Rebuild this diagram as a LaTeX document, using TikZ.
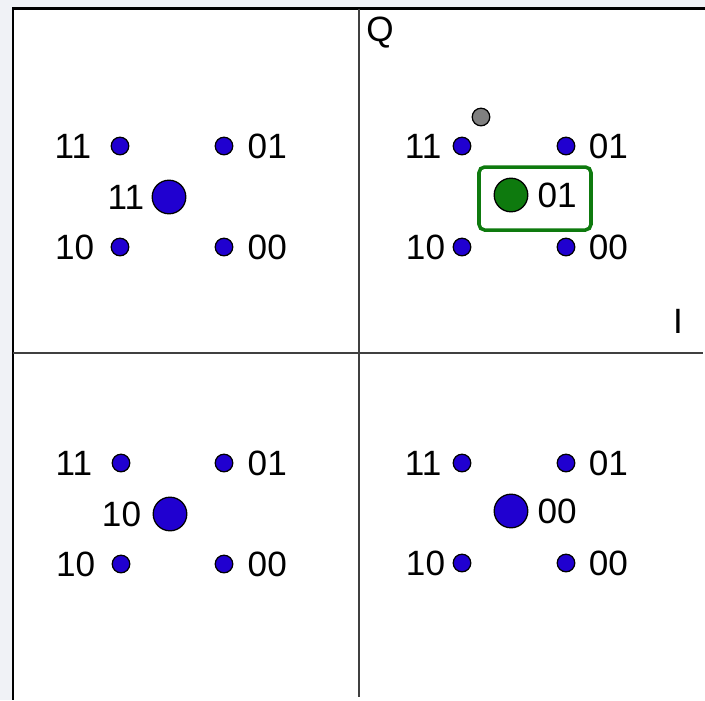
\documentclass[tikz,border=0pt]{standalone}
\usepackage{fontspec}
\setmainfont{Liberation Sans}
\usetikzlibrary{positioning}

\definecolor{dotblue}{RGB}{32,0,208}
\definecolor{selgreen}{RGB}{14,122,14}
\definecolor{pagebg}{RGB}{240,242,246}

\begin{document}
\begin{tikzpicture}[
    x=0.025cm, y=-0.025cm, % 1 unit = 1 px
    sdot/.style={circle, draw=black, line width=0.9pt, fill=dotblue, inner sep=0pt, minimum size=0.44cm},
    bdot/.style={sdot, minimum size=0.84cm},
    lbl/.style={inner sep=0pt, font=\fontsize{25}{29}\selectfont},
    frameline/.style={line width=2.1pt, black},
    axisline/.style={line width=1.4pt, black!75},
    selbox/.style={draw=selgreen, line width=2.5pt, rounded corners=4pt}
]
\useasboundingbox (0,0) rectangle (705,700);
\fill[pagebg] (0,0) rectangle (705,700);
\fill[white] (13,8) rectangle (705,700);

% ========== frame and axes ==========
\coordinate (ftl) at (13,8.5);
\coordinate (ftr) at (705,8.5);
\coordinate (fbl) at (13,700);
\draw[frameline] (ftr) -- (ftl) -- (fbl);
\coordinate (ql) at (13,353);
\coordinate (qr) at (703,353);
\coordinate (it) at (359,8.5);
\coordinate (ib) at (359,697);
\draw[axisline] (ql) -- (qr);
\draw[axisline] (it) -- (ib);

\node[lbl] (qax) at (380,33) {Q};
\node[lbl] (iax) at (678,321) {I};

% ========== top left: symbol 11 ==========
\node[sdot] (a11) at (120,146) {};
\node[sdot] (a01) at (224,146) {};
\node[sdot] (a10) at (120,247) {};
\node[sdot] (a00) at (224,247) {};
\node[bdot] (arx) at (169,197) {};
\node[lbl, left=0.48cm of a11] (a11l) {11};
\node[lbl, right=0.35cm of a01] (a01l) {01};
\node[lbl, left=0.4cm of a10] (a10l) {10};
\node[lbl, right=0.35cm of a00] (a00l) {00};
\node[lbl, left=0.18cm of arx] (arxl) {11};

% ========== top right: symbol 01 (selected) ==========
\node[sdot, fill=gray] (bprev) at (481,117) {};
\node[sdot] (b11) at (462,146) {};
\node[sdot] (b01) at (566,146) {};
\node[sdot] (b10) at (462,247) {};
\node[sdot] (b00) at (566,247) {};
\node[bdot, fill=selgreen] (brx) at (511,195) {};
\node[lbl, left=0.27cm of b11] (b11l) {11};
\node[lbl, right=0.33cm of b01] (b01l) {01};
\node[lbl, left=0.18cm of b10] (b10l) {10};
\node[lbl, right=0.33cm of b00] (b00l) {00};
\node[lbl, right=0.22cm of brx] (brxl) {01};
\coordinate (selA) at (479,167);
\coordinate (selB) at (591,230);
\draw[selbox] (selA) rectangle (selB);

% ========== bottom left: symbol 10 ==========
\node[sdot] (c11) at (121,463) {};
\node[sdot] (c01) at (224,463) {};
\node[sdot] (c10) at (121,564) {};
\node[sdot] (c00) at (224,564) {};
\node[bdot] (crx) at (170,514) {};
\node[lbl, left=0.48cm of c11] (c11l) {11};
\node[lbl, right=0.35cm of c01] (c01l) {01};
\node[lbl, left=0.4cm of c10] (c10l) {10};
\node[lbl, right=0.35cm of c00] (c00l) {00};
\node[lbl, left=0.28cm of crx] (crxl) {10};

% ========== bottom right: symbol 00 ==========
\node[sdot] (d11) at (462,463) {};
\node[sdot] (d01) at (566,463) {};
\node[sdot] (d10) at (462,563) {};
\node[sdot] (d00) at (566,563) {};
\node[bdot] (drx) at (511,511) {};
\node[lbl, left=0.27cm of d11] (d11l) {11};
\node[lbl, right=0.33cm of d01] (d01l) {01};
\node[lbl, left=0.18cm of d10] (d10l) {10};
\node[lbl, right=0.33cm of d00] (d00l) {00};
\node[lbl, right=0.22cm of drx] (drxl) {00};

\end{tikzpicture}
\end{document}
